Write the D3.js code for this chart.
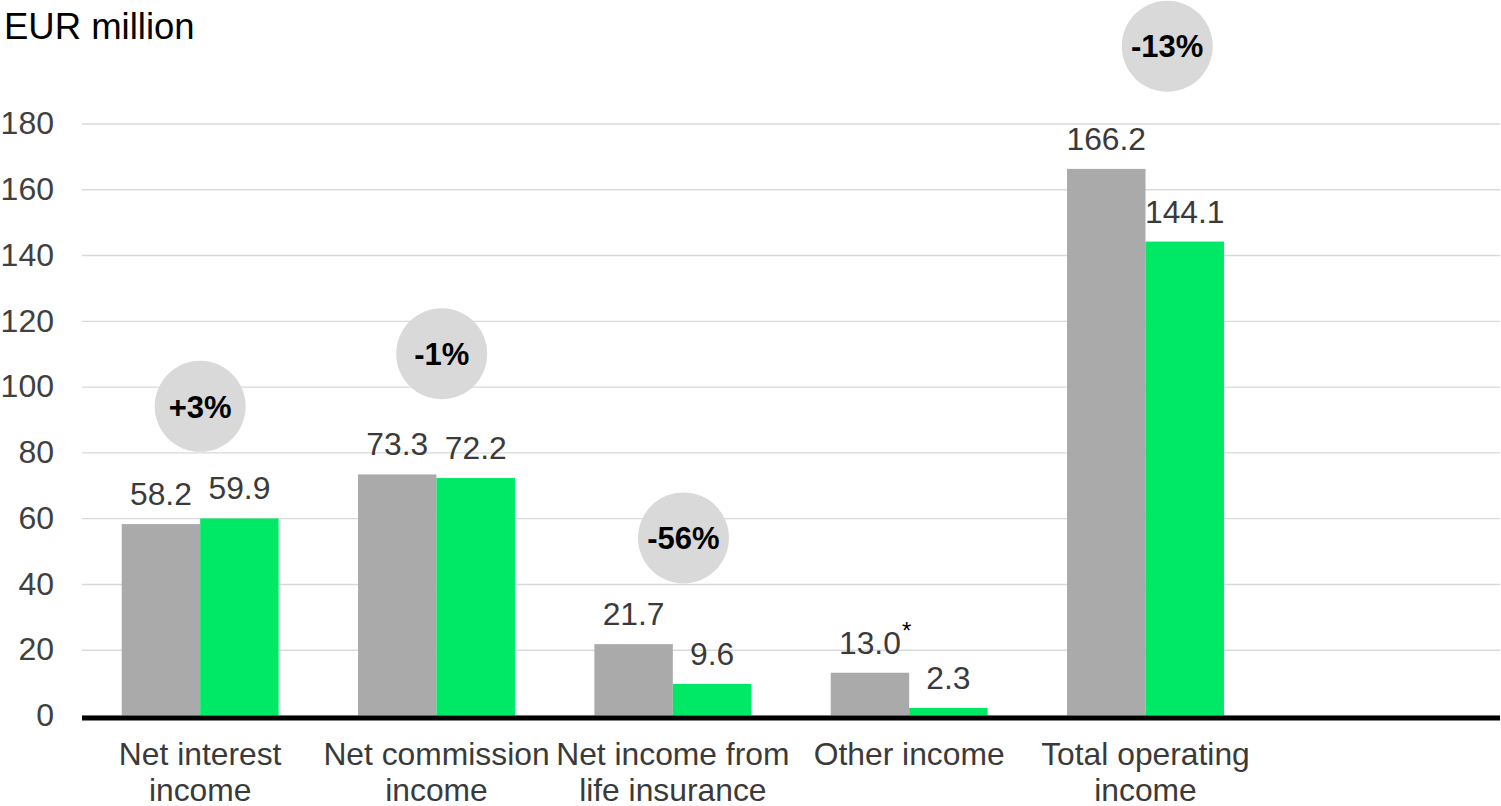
<!DOCTYPE html>
<html>
<head>
<meta charset="utf-8">
<script src="https://cdn.jsdelivr.net/npm/d3@7"></script>
<style>
  html, body { margin: 0; padding: 0; background: #fff; }
  svg { display: block; font-family: "Liberation Sans", Arial, sans-serif; }
</style>
</head>
<body>
<svg id="chart" width="1501" height="806"></svg>
<script>
// ---- data ----
const categories = ["Net interest income", "Net commission income", "Net income from life insurance", "Other income", "Total operating income"];
const categoryLines = [["Net interest", "income"], ["Net commission", "income"], ["Net income from", "life insurance"], ["Other income"], ["Total operating", "income"]];
const series = ["prior", "current"];
const priorValues = [58.2, 73.3, 21.7, 13.0, 166.2];
const currentValues = [59.9, 72.2, 9.6, 2.3, 144.1];
const priorNotes = ["", "", "", "*", ""];
const changeLabels = ["+3%", "-1%", "-56%", "", "-13%"];
const changeBadgeLevel = [94, 110, 54, null, 203.5];   // badge centre, in axis units
const changeBadgeShift = [0, 0.022, 0.045, 0, 0.092];  // badge shift, fraction of group width
const yTicks = [0, 20, 40, 60, 80, 100, 120, 140, 160, 180];
const unitLabel = "EUR million";

// ---- layout ----
(function () {
const svg = d3.select("#chart");
const mLeft = 82, mRight = 1500, mTop = 123.5, mBottom = 715.5;
const groupW = (mRight - mLeft) / 6;
const colors = { prior: "#AAAAAA", current: "#00E966" };
const textCol = "#3A3A3A";
const fs = 31.8;

const x = d3.scaleBand().domain(categories).range([mLeft, mLeft + 5 * groupW]).paddingInner(0).paddingOuter(0);
const x1 = d3.scaleBand().domain(series).range([0, x.bandwidth()]).paddingInner(0).paddingOuter(0.506);
const y = d3.scaleLinear().domain([0, 180]).range([mBottom, mTop]);

// unit title
svg.append("text").attr("x", 4).attr("y", 39).attr("font-size", 36.5).attr("fill", "#000").text(unitLabel);

// y axis with gridlines
const yAxis = svg.append("g").attr("transform", `translate(${mLeft},0)`)
  .call(d3.axisLeft(y).tickValues(yTicks).tickSize(-(mRight - mLeft)).tickPadding(28).tickFormat(d3.format("d")));
yAxis.select(".domain").remove();
yAxis.selectAll(".tick line").attr("stroke", "#D9D9D9").attr("stroke-width", 1.4);
yAxis.selectAll(".tick text").attr("font-size", 32).attr("fill", "#404040").attr("font-family", "Liberation Sans, Arial, sans-serif");

// bars
const rows = categories.map((c, i) => ({ cat: c, i, prior: priorValues[i], current: currentValues[i] }));
const groups = svg.append("g").selectAll("g").data(rows).join("g")
  .attr("transform", d => `translate(${x(d.cat)},0)`);

groups.selectAll("rect").data(d => series.map(s => ({ s, v: d[s] }))).join("rect")
  .attr("x", d => x1(d.s))
  .attr("width", x1.bandwidth())
  .attr("y", d => y(d.v))
  .attr("height", d => y(0) - y(d.v))
  .attr("fill", d => colors[d.s]);

// value labels
groups.each(function(d) {
  const g = d3.select(this);
  series.forEach(s => {
    const cx = x1(s) + x1.bandwidth() / 2;
    const t = g.append("text")
      .attr("x", cx).attr("y", y(d[s]) - 19)
      .attr("text-anchor", "middle").attr("font-size", fs).attr("fill", textCol)
      .text(d3.format(".1f")(d[s]));
    if (s === "prior" && priorNotes[d.i]) {
      const w = t.node().getComputedTextLength();
      g.append("text")
        .attr("x", cx + w / 2 + 1).attr("y", y(d[s]) - 34)
        .attr("font-size", 24).attr("fill", "#000")
        .text(priorNotes[d.i]);
    }
  });
});

// x axis line
svg.append("line").attr("x1", mLeft).attr("x2", mRight).attr("y1", mBottom + 2.5).attr("y2", mBottom + 2.5)
  .attr("stroke", "#000").attr("stroke-width", 5);

// category labels
categories.forEach((c, i) => {
  const t = svg.append("text").attr("text-anchor", "middle").attr("font-size", fs).attr("fill", textCol);
  categoryLines[i].forEach((line, j) => {
    t.append("tspan").attr("x", x(c) + x.bandwidth() / 2).attr("y", 765 + j * 36).text(line);
  });
});

// change badges
categories.forEach((c, i) => {
  if (!changeLabels[i]) return;
  const cx = x(c) + x.bandwidth() / 2 + changeBadgeShift[i] * x.bandwidth();
  const cy = y(changeBadgeLevel[i]);
  svg.append("circle").attr("cx", cx).attr("cy", cy).attr("r", 45.5).attr("fill", "#D9D9D9");
  svg.append("text").attr("x", cx).attr("y", cy).attr("dy", "0.36em")
    .attr("text-anchor", "middle").attr("font-size", 31).attr("font-weight", "bold").attr("fill", "#000")
    .text(changeLabels[i]);
});
})();
</script>
</body>
</html>
